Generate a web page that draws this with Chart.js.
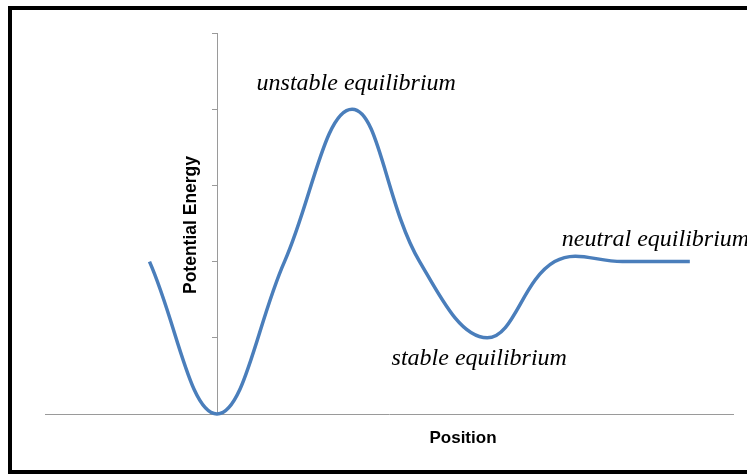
<!DOCTYPE html>
<html>
<head>
<meta charset="utf-8">
<script src="https://cdn.jsdelivr.net/npm/chart.js@4.4.0/dist/chart.umd.min.js"></script>
<style>
  html, body { margin: 0; padding: 0; background: #fff; overflow: hidden; }
  #wrap { position: relative; width: 747px; height: 474px; }
  #frame {
    position: absolute; left: 8px; top: 6px; width: 800px; height: 460px;
    border: 4px solid #000; pointer-events: none;
  }
</style>
</head>
<body>
<div id="wrap">
  <canvas id="chart"></canvas>
  <div id="frame"></div>
</div>
<script>
// curve (position, potential energy), smoothed by the spline
const positions = [-0.785, 0, 0.785, 1.571, 2.356, 3.142, 3.927, 4.712, 5.498];
const energies  = [2, 0, 2, 4, 2, 1, 2, 2, 2];

const xTitle = 'Position';
const yTitle = 'Potential Energy';
const labels = ['unstable equilibrium', 'stable equilibrium', 'neutral equilibrium'];

const axisGray = '#9a9a9a';

// draws axis titles and the three italic notes
const notesPlugin = {
  id: 'notes',
  afterDraw(chart) {
    const { ctx, scales: { x, y } } = chart;
    const x0 = x.getPixelForValue(0);
    const y0 = y.getPixelForValue(0);
    ctx.save();
    ctx.fillStyle = '#000';

    ctx.font = 'bold 17px "Liberation Sans", Arial, sans-serif';
    ctx.textAlign = 'center';
    ctx.textBaseline = 'middle';
    ctx.fillText(xTitle, 463, y0 + 24);

    ctx.font = 'bold 17.5px "Liberation Sans", Arial, sans-serif';
    ctx.translate(x0 - 26, 225);
    ctx.rotate(-Math.PI / 2);
    ctx.fillText(yTitle, 0, 0);
    ctx.setTransform(1, 0, 0, 1, 0, 0);

    ctx.font = 'italic 24px "Liberation Serif", "Times New Roman", serif';
    ctx.textAlign = 'left';
    ctx.textBaseline = 'alphabetic';
    ctx.fillText(labels[0], x.getPixelForValue(0.46), y.getPixelForValue(4.25));
    ctx.fillText(labels[1], x.getPixelForValue(2.03), y.getPixelForValue(0.64));
    ctx.fillText(labels[2], x.getPixelForValue(4.01), y.getPixelForValue(2.20));
    ctx.restore();
  }
};

const ctx = document.getElementById('chart').getContext('2d');
new Chart(ctx, {
  type: 'scatter',
  data: {
    datasets: [{
      data: positions.map((p, i) => ({ x: p, y: energies[i] })),
      showLine: true,
      borderColor: '#4A7EBB',
      borderWidth: 3.5,
      pointRadius: 0,
      tension: 0.4,
      clip: false
    }]
  },
  options: {
    responsive: true,
    maintainAspectRatio: false,
    animation: false,
    layout: { padding: { left: 45, right: 14, top: 33, bottom: 60 } },
    plugins: {
      legend: { display: false },
      tooltip: { enabled: false }
    },
    scales: {
      x: {
        type: 'linear',
        min: -2,
        max: 6,
        position: { y: 0 },
        ticks: { display: false },
        grid: { display: false },
        border: { color: axisGray, width: 1 },
        afterFit: (scale) => { scale.height = 0; }
      },
      y: {
        min: 0,
        max: 5,
        position: { x: 0 },
        ticks: { display: false, stepSize: 1 },
        grid: { drawOnChartArea: false, drawTicks: true, tickLength: 5, color: axisGray },
        border: { color: axisGray, width: 1 },
        afterFit: (scale) => { scale.width = 0; }
      }
    }
  },
  plugins: [notesPlugin]
});
</script>
</body>
</html>
